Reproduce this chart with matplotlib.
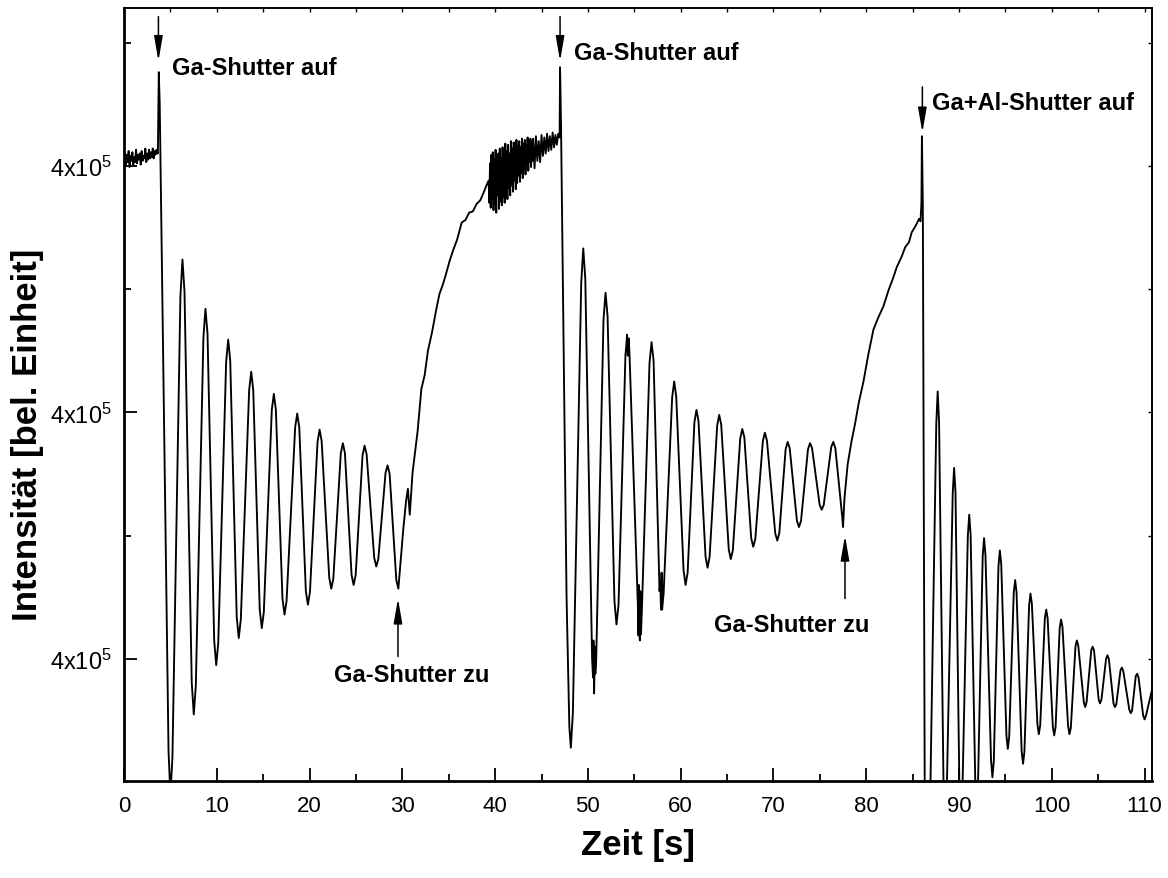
import numpy as np
import matplotlib
matplotlib.use("Agg")
import matplotlib.pyplot as plt
from matplotlib.ticker import MultipleLocator, FixedLocator, NullFormatter

plt.rcParams['font.family'] = ['Liberation Sans', 'DejaVu Sans']
plt.rcParams['mathtext.default'] = 'regular'

# Zeit [s] / Intensität [bel. Einheit]

# vor dem ersten Öffnen des Ga-Shutters (Rauschen)
t_vor = [0.0, 0.1, 0.2, 0.3, 0.4, 0.5, 0.6, 0.7, 0.8, 0.9, 1.0, 1.1, 1.2, 1.3,
         1.4, 1.5, 1.6, 1.7, 1.8, 1.9, 2.0, 2.1, 2.2, 2.3, 2.4, 2.5, 2.6, 2.7,
         2.8, 2.9, 3.0, 3.1, 3.2, 3.3, 3.4, 3.5, 3.6]
v_vor = [60.2, 61.0, 60.0, 60.9, 60.3, 61.2, 59.9, 60.8, 60.4, 61.1, 60.1, 60.7,
         60.3, 61.3, 60.2, 60.9, 60.5, 61.0, 60.1, 61.2, 60.4, 60.8, 60.6, 61.4,
         60.3, 61.0, 60.5, 61.3, 60.6, 61.1, 60.7, 61.4, 60.6, 61.2, 60.9, 61.3,
         61.0]

# Ga-Shutter auf -> Oszillationen
t_osz1 = [3.65, 3.75, 3.85, 4.80, 5.00, 5.22, 6.08, 6.30, 6.52, 7.30, 7.52, 7.74,
          8.56, 8.78, 9.00, 9.72, 9.94, 10.16, 11.01, 11.23, 11.45, 12.15, 12.37,
          12.59, 13.49, 13.71, 13.93, 14.63, 14.85, 15.07, 15.93, 16.15, 16.37,
          17.08, 17.30, 17.52, 18.45, 18.67, 18.89, 19.60, 19.82, 20.04, 20.86,
          21.08, 21.30, 22.12, 22.34, 22.56, 23.37, 23.59, 23.81, 24.53, 24.75,
          24.97, 25.71, 25.93, 26.15, 26.97, 27.19, 27.41, 28.19, 28.41, 28.63,
          29.35, 29.57]
v_osz1 = [61.0, 67.6, 65.0, 12.5, 9.0, 12.0, 49.4, 52.4, 49.8, 18.1, 15.5, 17.8,
          46.1, 48.4, 46.4, 21.5, 19.5, 21.3, 44.1, 45.9, 44.2, 23.4, 21.7, 23.2,
          41.8, 43.3, 41.8, 24.0, 22.5, 23.8, 40.2, 41.5, 40.2, 24.9, 23.6, 24.7,
          38.8, 39.9, 38.8, 25.5, 24.4, 25.4, 37.6, 38.6, 37.7, 26.6, 25.7, 26.5,
          36.7, 37.5, 36.7, 26.8, 26.0, 26.8, 36.5, 37.3, 36.6, 28.2, 27.5, 28.1,
          35.1, 35.7, 35.0, 26.4, 25.7]

# Ga-Shutter zu -> Erholung
t_erh1 = [29.80, 30.10, 30.40, 30.60, 30.80, 31.10, 31.65, 32.05, 32.40, 32.76,
          33.20, 33.67, 34.00, 34.38, 34.70, 35.10, 35.50, 35.90, 36.40, 36.80,
          37.20, 37.60, 38.00, 38.40, 38.80, 39.06]
v_erh1 = [27.8, 30.5, 32.8, 33.8, 31.7, 35.1, 38.5, 41.9, 43.0, 45.0,
          46.5, 48.4, 49.6, 50.4, 51.2, 52.3, 53.2, 54.0, 55.4, 55.6,
          56.2, 56.3, 56.9, 57.2, 57.9, 58.4]

# stark verrauschter Bereich vor dem zweiten Öffnen
t_band = [39.300, 39.375, 39.450, 39.525, 39.600, 39.675, 39.750, 39.825,
          39.900, 39.975, 40.050, 40.125, 40.200, 40.275, 40.350, 40.425,
          40.500, 40.575, 40.650, 40.725, 40.800, 40.875, 40.950, 41.025,
          41.100, 41.175, 41.250, 41.325, 41.400, 41.475, 41.550, 41.625,
          41.700, 41.775, 41.850, 41.925, 42.000, 42.075, 42.150, 42.225,
          42.300, 42.375, 42.450, 42.525, 42.600, 42.675, 42.750, 42.825,
          42.900, 42.975, 43.050, 43.125, 43.200, 43.275, 43.350, 43.425,
          43.500, 43.575, 43.650, 43.725, 43.800, 43.875, 43.950, 44.025,
          44.10, 44.25, 44.40, 44.55, 44.70, 44.85, 45.00, 45.15, 45.30, 45.45,
          45.60, 45.75, 45.90, 46.05, 46.20, 46.35, 46.50, 46.65, 46.80, 46.95]
v_band = [58.8, 57.0, 60.2, 56.6, 60.9, 57.4, 61.1, 56.4,
          60.5, 56.9, 61.3, 56.2, 60.7, 57.6, 61.0, 56.5,
          61.4, 57.1, 60.6, 56.8, 61.5, 57.5, 60.9, 57.0,
          61.8, 57.9, 61.2, 57.3, 61.7, 58.2, 61.0, 57.6,
          62.0, 58.4, 61.4, 57.9, 61.9, 58.8, 61.3, 58.1,
          62.1, 58.6, 61.6, 59.2, 62.0, 58.7, 61.5, 59.4,
          62.2, 59.0, 61.8, 59.8, 62.1, 59.3, 61.7, 60.1,
          62.3, 59.6, 61.9, 60.3, 62.2, 59.9, 62.0, 60.4,
          62.2, 59.8, 62.4, 60.4, 62.0, 60.3, 62.5, 60.8, 62.3, 61.0,
          62.6, 61.2, 62.4, 61.3, 62.7, 61.5, 62.5, 61.7, 62.6, 62.3]

# zweites Öffnen des Ga-Shutters
t_osz2 = [47.00, 47.10, 47.70, 48.00, 48.16, 48.38, 49.28, 49.50, 49.72, 50.45,
          50.55, 50.60, 50.67, 50.75, 50.80, 50.89, 51.68, 51.90, 52.12, 52.86,
          53.08, 53.30, 54.05, 54.15, 54.22, 54.30, 54.40, 54.49, 55.38, 55.45,
          55.50, 55.55, 55.60, 55.65, 55.72, 55.82, 56.64, 56.86, 57.08, 57.72,
          57.80, 57.88, 57.94, 58.00, 58.16, 59.08, 59.30, 59.52, 60.31, 60.53,
          60.75, 61.48, 61.70, 61.92, 62.68, 62.90, 63.12, 63.93, 64.15, 64.37,
          65.18, 65.40, 65.62, 66.42, 66.64, 66.86, 67.60, 67.82, 68.04, 68.86,
          69.08, 69.30, 70.19, 70.41, 70.63, 71.31, 71.53, 71.75, 72.53, 72.75,
          72.97, 73.72, 73.94, 74.16, 74.98, 75.20, 75.42, 76.23, 76.45, 76.67,
          77.40, 77.50]
v_osz2 = [68.0, 63.5, 25.0, 14.5, 12.8, 15.6, 50.5, 53.3, 50.8, 20.1,
          18.5, 21.5, 17.2, 21.0, 18.8, 19.8, 47.5, 49.7, 47.8, 24.7,
          22.8, 24.4, 44.7, 45.5, 46.3, 44.6, 46.0, 44.6, 24.5, 21.9,
          26.0, 22.5, 21.5, 25.5, 22.0, 24.0, 44.0, 45.7, 44.2, 25.5,
          26.2, 24.0, 27.0, 24.0, 25.3, 41.2, 42.5, 41.3, 27.2, 26.0,
          27.0, 39.2, 40.2, 39.3, 28.3, 27.4, 28.3, 38.9, 39.8, 39.0,
          28.9, 28.1, 28.8, 37.9, 38.65, 38.0, 29.8, 29.1, 29.7, 37.7,
          38.35, 37.7, 30.2, 29.6, 30.2, 37.0, 37.6, 37.1, 31.2, 30.7,
          31.2, 37.0, 37.5, 37.1, 32.5, 32.1, 32.5, 37.2, 37.6, 37.1,
          31.6, 30.7]

# Ga-Shutter zu -> Erholung
t_erh2 = [77.65, 78.00, 78.40, 78.80, 79.20, 79.70, 80.20, 80.77, 81.30, 81.85,
          82.40, 82.90, 83.30, 83.80, 84.20, 84.60, 84.90, 85.30, 85.70, 85.85,
          85.95]
v_erh2 = [33.0, 35.8, 37.6, 39.1, 40.8, 42.5, 44.6, 46.7, 47.7, 48.6,
          49.9, 50.9, 51.8, 52.6, 53.4, 53.8, 54.6, 55.1, 55.7, 55.5,
          57.0]

# Ga+Al-Shutter auf
t_osz3 = [86.00, 86.10, 86.30, 86.70, 86.85, 87.55, 87.70, 87.85, 88.35, 88.50,
          88.65, 89.32, 89.47, 89.62, 90.05, 90.20, 90.35, 90.95, 91.10, 91.25,
          91.75, 91.90, 92.05, 92.55, 92.70, 92.85, 93.45, 93.60, 93.75, 94.25,
          94.40, 94.55, 95.11, 95.26, 95.41, 95.90, 96.05, 96.20, 96.75, 96.90,
          97.05, 97.55, 97.70, 97.85, 98.45, 98.60, 98.75, 99.25, 99.40, 99.55,
          100.11, 100.26, 100.41, 100.85, 101.00, 101.15, 101.75, 101.90, 102.05,
          102.55, 102.70, 102.85, 103.45, 103.60, 103.75, 104.25, 104.40, 104.55,
          105.05, 105.20, 105.35, 105.85, 106.00, 106.15, 106.65, 106.80, 106.95,
          107.41, 107.56, 107.71, 108.35, 108.50, 108.65, 109.05, 109.20, 109.35,
          109.85, 110.00, 110.15, 110.80]
v_osz3 = [62.4, 57.0, 10.0, 4.0, 6.6, 39.1, 41.7, 39.2, 8.5, 6.0,
          8.1, 33.4, 35.5, 33.5, 9.0, 7.0, 8.7, 30.0, 31.7, 30.1,
          10.1, 8.5, 10.0, 28.3, 29.8, 28.4, 11.8, 10.4, 11.7, 27.5,
          28.8, 27.7, 13.8, 12.7, 13.7, 25.4, 26.4, 25.4, 12.5, 11.5,
          12.5, 24.3, 25.3, 24.5, 14.7, 13.9, 14.6, 23.3, 24.0, 23.3,
          14.5, 13.8, 14.5, 22.5, 23.2, 22.6, 14.6, 13.9, 14.4,
          21.0, 21.5, 21.1, 16.5, 16.1, 16.5, 20.7, 21.0, 20.7,
          16.7, 16.4, 16.7, 20.0, 20.3, 20.0, 16.4, 16.1, 16.3,
          19.1, 19.3, 19.0, 15.9, 15.6, 15.8, 18.6, 18.8, 18.5,
          15.4, 15.1, 15.4, 17.5]

zeit = np.concatenate([t_vor, t_osz1, t_erh1, t_band, t_osz2, t_erh2, t_osz3])
intens = np.concatenate([v_vor, v_osz1, v_erh1, v_band, v_osz2, v_erh2, v_osz3])

# Beschriftungen: (Text, Pfeilspitze, Pfeilende, Textposition, Ausrichtung)
marken = [
    ("Ga-Shutter auf", (3.71, 68.5), (3.71, 72.1), (5.19, 67.45), "left"),
    ("Ga-Shutter auf", (47.0, 68.5), (47.0, 72.1), (48.5, 68.66), "left"),
    ("Ga+Al-Shutter auf", (86.05, 62.7), (86.05, 66.4), (87.07, 64.6), "left"),
    ("Ga-Shutter zu", (29.53, 24.9), (29.53, 20.2), (31.0, 18.2), "center"),
    ("Ga-Shutter zu", (77.71, 30.0), (77.71, 24.9), (72.0, 22.3), "center"),
]

fig = plt.figure(figsize=(11.68, 8.79), dpi=100)
ax = fig.add_axes([124 / 1168, 1 - 782 / 879, (1152 - 124) / 1168, (782 - 9) / 879])

ax.plot(zeit, intens, color="black", lw=1.35)

ax.set_xlim(0, 110.8)
ax.set_ylim(10.1, 72.8)

ax.xaxis.set_major_locator(MultipleLocator(10))
ax.xaxis.set_minor_locator(MultipleLocator(5))
ax.yaxis.set_major_locator(FixedLocator([20, 40, 60]))
ax.yaxis.set_minor_locator(FixedLocator([30, 50, 70]))
ax.set_yticklabels(["4x10$^5$"] * 3)

ax.tick_params(which="both", direction="in", width=1.3)
ax.tick_params(which="major", length=9.5)
ax.tick_params(which="minor", length=5)
ax.tick_params(axis="x", labelsize=16, pad=10)
ax.tick_params(axis="y", labelsize=17, pad=8.5)

for s in ["left", "bottom"]:
    ax.spines[s].set_linewidth(2.0)
for s in ["top", "right"]:
    ax.spines[s].set_linewidth(1.4)

# kurze Striche oben und rechts
oben = ax.secondary_xaxis("top")
oben.set_xticks(np.arange(0, 111, 5))
oben.xaxis.set_major_formatter(NullFormatter())
oben.tick_params(direction="in", length=3, width=1.0)
oben.spines["top"].set_visible(False)
rechts = ax.secondary_yaxis("right")
rechts.set_yticks([20, 30, 40, 50, 60, 70])
rechts.yaxis.set_major_formatter(NullFormatter())
rechts.tick_params(direction="in", length=3, width=1.0)
rechts.spines["right"].set_visible(False)

for text, spitze, ende, pos, ha in marken:
    ax.annotate("", xy=spitze, xytext=ende,
                arrowprops=dict(arrowstyle="-|>,head_length=0.75,head_width=0.13",
                                mutation_scale=20, lw=1.1, color="black",
                                shrinkA=0, shrinkB=0))
    ax.text(pos[0], pos[1], text, ha=ha, va="baseline",
            fontsize=17, fontweight="bold")

fig.text(0.5 * (124 + 1152) / 1168, 1 - 846 / 879, "Zeit [s]",
         ha="center", va="center", fontsize=25, fontweight="bold")
fig.text(28 / 1168, 1 - 435 / 879, "Intensität [bel. Einheit]",
         ha="center", va="center", rotation=90, fontsize=25, fontweight="bold")

fig.savefig("out.png", dpi=100)
